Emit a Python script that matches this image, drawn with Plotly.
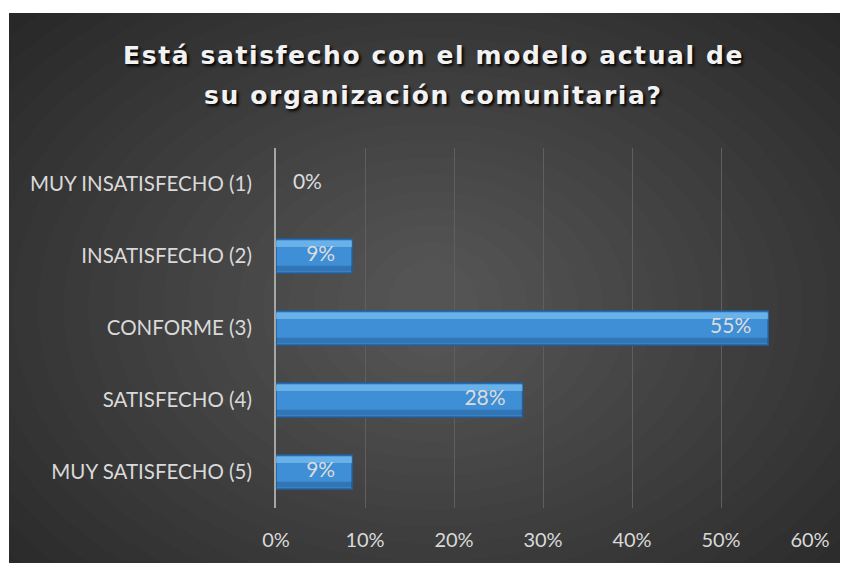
import plotly.graph_objects as go

categories = [
    "MUY INSATISFECHO (1)",
    "INSATISFECHO (2)",
    "CONFORME (3)",
    "SATISFECHO (4)",
    "MUY SATISFECHO (5)",
]
shares = [0.0, 0.0855, 0.553, 0.277, 0.0855]
x_ticks = [0, 0.1, 0.2, 0.3, 0.4, 0.5, 0.6]
title_lines = ["Está satisfecho con el modelo actual de", "su organización comunitaria?"]

# page body has an 8px margin, so the figure is a bit smaller than the window
W, H = 840, 555
L, R, T, B = 268, 38, 140, 55
pw, ph = W - L - R, H - T - B
pad = 0.019  # ~17px gap between label and bar end


def px_x(x):
    return (x - L) / pw


def px_y(y):
    return (H - B - y) / ph


labels = [f"{v:.0%}" for v in shares]

fig = go.Figure()
fig.add_trace(go.Bar(
    x=shares, y=categories, orientation="h", width=0.47,
    marker=dict(color="#3f8fd6", line=dict(color="#22609e", width=[0 if v == 0 else 1.5 for v in shares])),
    hoverinfo="skip",
))
# bevel: light strip along the top, darker strip along the bottom
fig.add_trace(go.Bar(
    x=shares, y=categories, orientation="h", width=0.09, offset=-0.215,
    marker=dict(color="rgba(140,205,250,0.55)", line_width=0), hoverinfo="skip",
))
fig.add_trace(go.Bar(
    x=shares, y=categories, orientation="h", width=0.08, offset=0.135,
    marker=dict(color="rgba(25,70,120,0.35)", line_width=0), hoverinfo="skip",
))
# value labels: inside end of the bar, or just right of the axis for 0
fig.add_trace(go.Scatter(
    x=[v - pad if v > 0 else pad for v in shares], y=categories,
    mode="text", text=labels,
    textposition=["middle left" if v > 0 else "middle right" for v in shares],
    textfont=dict(color="#dcdcdc", size=21, family="Lato"),
    cliponaxis=False, hoverinfo="skip",
))

# dark panel with a soft radial glow
shapes = [dict(type="rect", xref="paper", yref="paper", layer="below",
               x0=px_x(1), x1=px_x(838), y0=px_y(555), y1=px_y(5),
               fillcolor="#242424", line_width=0)]
cx, cy = 425, 300
for i in range(24):
    rx = 620 - i * 25
    ry = 440 - i * 17
    shapes.append(dict(type="circle", xref="paper", yref="paper", layer="below",
                       x0=px_x(cx - rx), x1=px_x(cx + rx),
                       y0=px_y(cy + ry), y1=px_y(cy - ry),
                       fillcolor="rgba(255,255,255,0.011)", line_width=0))

annotations = []
for k, line in enumerate(title_lines):
    annotations.append(dict(
        text=f'<span style="letter-spacing:1.6px">{line}</span>',
        xref="paper", yref="paper", x=px_x(425), y=px_y(47 + 40 * k),
        xanchor="center", yanchor="middle", showarrow=False,
        font=dict(family="DejaVu Sans", size=25, color="#f2f2f2", weight="bold",
                  shadow="2px 2px 3px #000000"),
    ))

fig.update_layout(
    width=W, height=H,
    margin=dict(l=L, r=R, t=T, b=B),
    paper_bgcolor="white",
    plot_bgcolor="rgba(0,0,0,0)",
    shapes=shapes,
    annotations=annotations,
    showlegend=False,
    barmode="overlay",
    xaxis=dict(
        range=[0, 0.6], tickvals=x_ticks, tickformat=".0%",
        showgrid=True, gridcolor="#5f5f5f", gridwidth=1,
        zeroline=False, showline=False,
        ticks="", ticklabelstandoff=18,
        tickfont=dict(family="Lato", size=20, color="#d9d9d9"),
    ),
    yaxis=dict(
        autorange="reversed", showgrid=False,
        showline=True, linecolor="#a6a6a6", linewidth=2,
        ticks="", ticklabelstandoff=18,
        tickfont=dict(family="Lato", size=20.5, color="#d9d9d9"),
    ),
)

fig.write_html("out.html")
